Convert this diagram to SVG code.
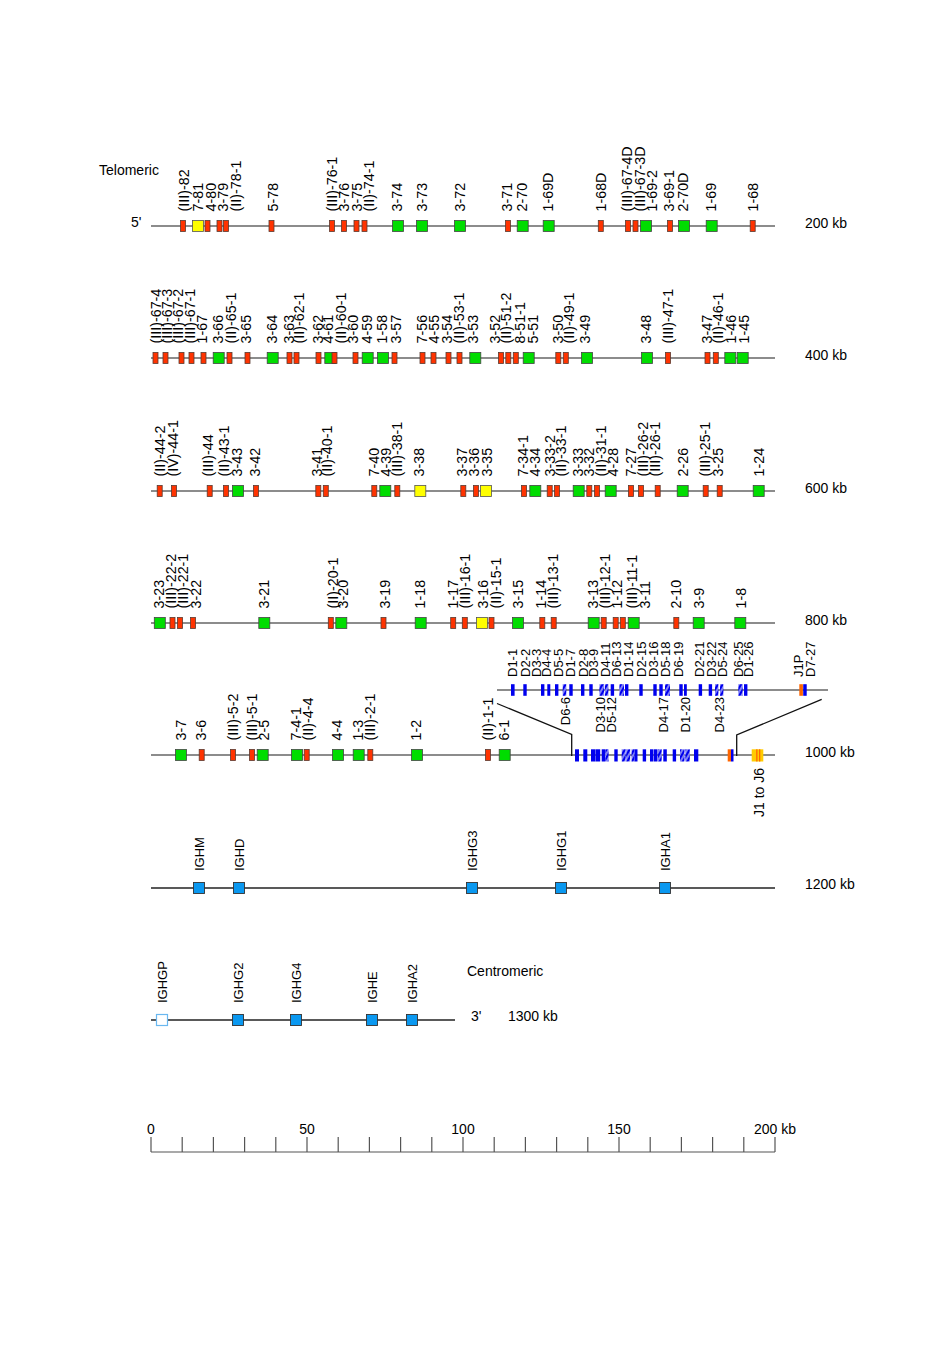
<svg xmlns="http://www.w3.org/2000/svg" xmlns:xlink="http://www.w3.org/1999/xlink" width="926" height="1361" viewBox="0 0 926 1361">
<style>
text{font-family:"Liberation Sans",Arial,sans-serif;font-size:13px;fill:#000}
g[id^="v"] text{font-size:14.3px}
.s{font-size:14px}
.e{text-anchor:end}
.m{text-anchor:middle}
.ln{stroke:#666;stroke-width:1.3;fill:none}
.lk{stroke:#222;stroke-width:1.3;fill:none}
.cn{stroke:#111;stroke-width:1.3;fill:none}
.d{fill:#0000ee}
.dh{fill:url(#hatch)}
.o{fill:#ff6600}
</style>
<defs>
<pattern id="hatch" width="4" height="4" patternUnits="userSpaceOnUse" patternTransform="rotate(30)"><rect width="4" height="4" fill="#0000ee"/><rect x="1.5" width="1" height="4" fill="#ffffff"/></pattern>
<rect id="R" x="-2.5" y="-5.5" width="5" height="11" fill="#ff3300" stroke="#5a3a30" stroke-width="0.8"/>
<rect id="G" x="-5.5" y="-5.5" width="11" height="11" fill="#00dd00" stroke="#444" stroke-width="0.8"/>
<rect id="Y" x="-5.5" y="-5.5" width="11" height="11" fill="#ffff00" stroke="#555" stroke-width="0.8"/>
<rect id="C" x="-5.5" y="-5.5" width="11" height="11" fill="#0a98f0" stroke="#333" stroke-width="0.9"/>
<rect id="CP" x="-5.5" y="-5.5" width="11" height="11" fill="#ffffff" stroke="#6ab8f0" stroke-width="1.2"/>
</defs>
<rect width="926" height="1361" fill="#fff"/>

<g id="connectors">
<line class="ln" x1="151" y1="226" x2="775" y2="226"/>
<line class="ln" x1="151" y1="358" x2="775" y2="358"/>
<line class="ln" x1="151" y1="491" x2="775" y2="491"/>
<line class="ln" x1="151" y1="623" x2="775" y2="623"/>
<line class="ln" x1="151" y1="755" x2="775" y2="755"/>
<line class="ln" x1="497" y1="690" x2="828" y2="690"/>
<line class="lk" x1="151" y1="888" x2="775" y2="888"/>
<line class="lk" x1="151" y1="1020" x2="455" y2="1020"/>
<polyline class="cn" points="497,703.5 571.7,734.5 571.7,756"/>
<polyline class="cn" points="821.7,699.3 736.7,735 736.7,756"/>
</g>

<g id="side-labels">
<text class="s" x="99" y="175">Telomeric</text>
<text class="s" x="131" y="227">5'</text>
<text class="s" x="805" y="228">200 kb</text>
<text class="s" x="805" y="360">400 kb</text>
<text class="s" x="805" y="493">600 kb</text>
<text class="s" x="805" y="625">800 kb</text>
<text class="s" x="805" y="757">1000 kb</text>
<text class="s" x="805" y="889">1200 kb</text>
<text class="s" x="467" y="976">Centromeric</text>
<text class="s" x="471" y="1021">3'</text>
<text class="s" x="508" y="1021">1300 kb</text>
</g>

<!-- Row 1 -->
<g id="v-III-82"><use href="#R" x="183" y="226"/><text transform="translate(188.7,211.5) rotate(-90)">(III)-82</text></g>
<g id="v7-81"><use href="#Y" x="198" y="226"/><text transform="translate(202.7,211.5) rotate(-90)">7-81</text></g>
<g id="v4-80"><use href="#R" x="207.5" y="226"/><text transform="translate(215.7,211.5) rotate(-90)">4-80</text></g>
<g id="v3-79"><use href="#R" x="219.5" y="226"/><text transform="translate(227.7,211.5) rotate(-90)">3-79</text></g>
<g id="v-II-78-1"><use href="#R" x="226" y="226"/><text transform="translate(240.7,211.5) rotate(-90)">(II)-78-1</text></g>
<g id="v5-78"><use href="#R" x="271.5" y="226"/><text transform="translate(277.7,211.5) rotate(-90)">5-78</text></g>
<g id="v-III-76-1"><use href="#R" x="332" y="226"/><text transform="translate(336.7,211.5) rotate(-90)">(III)-76-1</text></g>
<g id="v3-76"><use href="#R" x="344" y="226"/><text transform="translate(348.7,211.5) rotate(-90)">3-76</text></g>
<g id="v3-75"><use href="#R" x="356.5" y="226"/><text transform="translate(361.7,211.5) rotate(-90)">3-75</text></g>
<g id="v-II-74-1"><use href="#R" x="364.5" y="226"/><text transform="translate(373.7,211.5) rotate(-90)">(II)-74-1</text></g>
<g id="v3-74"><use href="#G" x="398" y="226"/><text transform="translate(401.7,211.5) rotate(-90)">3-74</text></g>
<g id="v3-73"><use href="#G" x="422" y="226"/><text transform="translate(426.7,211.5) rotate(-90)">3-73</text></g>
<g id="v3-72"><use href="#G" x="460" y="226"/><text transform="translate(464.7,211.5) rotate(-90)">3-72</text></g>
<g id="v3-71"><use href="#R" x="508" y="226"/><text transform="translate(511.7,211.5) rotate(-90)">3-71</text></g>
<g id="v2-70"><use href="#G" x="522.7" y="226"/><text transform="translate(526.7,211.5) rotate(-90)">2-70</text></g>
<g id="v1-69D"><use href="#G" x="548.7" y="226"/><text transform="translate(552.7,211.5) rotate(-90)">1-69D</text></g>
<g id="v1-68D"><use href="#R" x="600.8" y="226"/><text transform="translate(605.7,211.5) rotate(-90)">1-68D</text></g>
<g id="v-III-67-4D"><use href="#R" x="628" y="226"/><text transform="translate(631.5,211.5) rotate(-90)">(III)-67-4D</text></g>
<g id="v-III-67-3D"><use href="#R" x="635.5" y="226"/><text transform="translate(644.7,211.5) rotate(-90)">(III)-67-3D</text></g>
<g id="v1-69-2"><use href="#G" x="646" y="226"/><text transform="translate(657,211.5) rotate(-90)">1-69-2</text></g>
<g id="v3-69-1"><use href="#R" x="670" y="226"/><text transform="translate(673.5,211.5) rotate(-90)">3-69-1</text></g>
<g id="v2-70D"><use href="#G" x="684" y="226"/><text transform="translate(687.5,211.5) rotate(-90)">2-70D</text></g>
<g id="v1-69"><use href="#G" x="711.7" y="226"/><text transform="translate(715.7,211.5) rotate(-90)">1-69</text></g>
<g id="v1-68"><use href="#R" x="752.7" y="226"/><text transform="translate(757.7,211.5) rotate(-90)">1-68</text></g>

<!-- Row 2 -->
<g id="v-III-67-4"><use href="#R" x="155.5" y="358"/><text transform="translate(160.7,343.5) rotate(-90)">(III)-67-4</text></g>
<g id="v-III-67-3"><use href="#R" x="165.5" y="358"/><text transform="translate(171.7,343.5) rotate(-90)">(III)-67-3</text></g>
<g id="v-III-67-2"><use href="#R" x="181.5" y="358"/><text transform="translate(183.2,343.5) rotate(-90)">(III)-67-2</text></g>
<g id="v-III-67-1"><use href="#R" x="191.5" y="358"/><text transform="translate(194.7,343.5) rotate(-90)">(III)-67-1</text></g>
<g id="v1-67"><use href="#R" x="203.5" y="358"/><text transform="translate(207.2,343.5) rotate(-90)">1-67</text></g>
<g id="v3-66"><use href="#G" x="218.7" y="358"/><text transform="translate(222.7,343.5) rotate(-90)">3-66</text></g>
<g id="v-II-65-1"><use href="#R" x="229.5" y="358"/><text transform="translate(235.7,343.5) rotate(-90)">(II)-65-1</text></g>
<g id="v3-65"><use href="#R" x="247.5" y="358"/><text transform="translate(250.7,343.5) rotate(-90)">3-65</text></g>
<g id="v3-64"><use href="#G" x="272.7" y="358"/><text transform="translate(276.7,343.5) rotate(-90)">3-64</text></g>
<g id="v3-63"><use href="#R" x="289.5" y="358"/><text transform="translate(293.7,343.5) rotate(-90)">3-63</text></g>
<g id="v-II-62-1"><use href="#R" x="296.5" y="358"/><text transform="translate(304.2,343.5) rotate(-90)">(II)-62-1</text></g>
<g id="v3-62"><use href="#R" x="318.5" y="358"/><text transform="translate(322.7,343.5) rotate(-90)">3-62</text></g>
<g id="v4-61"><use href="#G" x="330.3" y="358"/><text transform="translate(333.2,343.5) rotate(-90)">4-61</text></g>
<g id="v-II-60-1"><use href="#R" x="334.5" y="358"/><text transform="translate(346.2,343.5) rotate(-90)">(II)-60-1</text></g>
<g id="v3-60"><use href="#R" x="355.5" y="358"/><text transform="translate(357.7,343.5) rotate(-90)">3-60</text></g>
<g id="v4-59"><use href="#G" x="367.7" y="358"/><text transform="translate(371.7,343.5) rotate(-90)">4-59</text></g>
<g id="v1-58"><use href="#G" x="383" y="358"/><text transform="translate(386.7,343.5) rotate(-90)">1-58</text></g>
<g id="v3-57"><use href="#R" x="394.5" y="358"/><text transform="translate(400.7,343.5) rotate(-90)">3-57</text></g>
<g id="v7-56"><use href="#R" x="422.5" y="358"/><text transform="translate(426.7,343.5) rotate(-90)">7-56</text></g>
<g id="v4-55"><use href="#R" x="433.5" y="358"/><text transform="translate(438.7,343.5) rotate(-90)">4-55</text></g>
<g id="v3-54"><use href="#R" x="448.5" y="358"/><text transform="translate(451.7,343.5) rotate(-90)">3-54</text></g>
<g id="v-II-53-1"><use href="#R" x="459.5" y="358"/><text transform="translate(464.2,343.5) rotate(-90)">(II)-53-1</text></g>
<g id="v3-53"><use href="#G" x="475.3" y="358"/><text transform="translate(478.2,343.5) rotate(-90)">3-53</text></g>
<g id="v3-52"><use href="#R" x="501" y="358"/><text transform="translate(499.7,343.5) rotate(-90)">3-52</text></g>
<g id="v-II-51-2"><use href="#R" x="508.3" y="358"/><text transform="translate(510.7,343.5) rotate(-90)">(II)-51-2</text></g>
<g id="v8-51-1"><use href="#R" x="515.8" y="358"/><text transform="translate(525.2,343.5) rotate(-90)">8-51-1</text></g>
<g id="v5-51"><use href="#G" x="528.7" y="358"/><text transform="translate(537.7,343.5) rotate(-90)">5-51</text></g>
<g id="v3-50"><use href="#R" x="558.3" y="358"/><text transform="translate(562.7,343.5) rotate(-90)">3-50</text></g>
<g id="v-II-49-1"><use href="#R" x="565.8" y="358"/><text transform="translate(573.7,343.5) rotate(-90)">(II)-49-1</text></g>
<g id="v3-49"><use href="#G" x="587" y="358"/><text transform="translate(589.7,343.5) rotate(-90)">3-49</text></g>
<g id="v3-48"><use href="#G" x="647" y="358"/><text transform="translate(650.7,343.5) rotate(-90)">3-48</text></g>
<g id="v-III-47-1"><use href="#R" x="668" y="358"/><text transform="translate(672.7,343.5) rotate(-90)">(III)-47-1</text></g>
<g id="v3-47"><use href="#R" x="707.5" y="358"/><text transform="translate(711.7,343.5) rotate(-90)">3-47</text></g>
<g id="v-II-46-1"><use href="#R" x="715.8" y="358"/><text transform="translate(722.7,343.5) rotate(-90)">(II)-46-1</text></g>
<g id="v1-46"><use href="#G" x="730.3" y="358"/><text transform="translate(736.2,343.5) rotate(-90)">1-46</text></g>
<g id="v1-45"><use href="#G" x="742.7" y="358"/><text transform="translate(748.7,343.5) rotate(-90)">1-45</text></g>

<!-- Row 3 -->
<g id="v-II-44-2"><use href="#R" x="159.7" y="491"/><text transform="translate(164.7,476.5) rotate(-90)">(II)-44-2</text></g>
<g id="v-IV-44-1"><use href="#R" x="174" y="491"/><text transform="translate(178.2,476.5) rotate(-90)">(IV)-44-1</text></g>
<g id="v-III-44"><use href="#R" x="209.7" y="491"/><text transform="translate(213.2,476.5) rotate(-90)">(III)-44</text></g>
<g id="v-II-43-1"><use href="#R" x="226" y="491"/><text transform="translate(228.7,476.5) rotate(-90)">(II)-43-1</text></g>
<g id="v3-43"><use href="#G" x="238" y="491"/><text transform="translate(241.7,476.5) rotate(-90)">3-43</text></g>
<g id="v3-42"><use href="#R" x="256" y="491"/><text transform="translate(259.7,476.5) rotate(-90)">3-42</text></g>
<g id="v3-41"><use href="#R" x="318.3" y="491"/><text transform="translate(322.2,476.5) rotate(-90)">3-41</text></g>
<g id="v-II-40-1"><use href="#R" x="325.8" y="491"/><text transform="translate(331.7,476.5) rotate(-90)">(II)-40-1</text></g>
<g id="v7-40"><use href="#R" x="374.3" y="491"/><text transform="translate(378.7,476.5) rotate(-90)">7-40</text></g>
<g id="v4-39"><use href="#G" x="385.3" y="491"/><text transform="translate(390.7,476.5) rotate(-90)">4-39</text></g>
<g id="v-III-38-1"><use href="#R" x="397.3" y="491"/><text transform="translate(401.7,476.5) rotate(-90)">(III)-38-1</text></g>
<g id="v3-38"><use href="#Y" x="420.3" y="491"/><text transform="translate(424.2,476.5) rotate(-90)">3-38</text></g>
<g id="v3-37"><use href="#R" x="463.3" y="491"/><text transform="translate(466.7,476.5) rotate(-90)">3-37</text></g>
<g id="v3-36"><use href="#R" x="476" y="491"/><text transform="translate(479.2,476.5) rotate(-90)">3-36</text></g>
<g id="v3-35"><use href="#Y" x="486" y="491"/><text transform="translate(491.7,476.5) rotate(-90)">3-35</text></g>
<g id="v7-34-1"><use href="#R" x="524" y="491"/><text transform="translate(528.2,476.5) rotate(-90)">7-34-1</text></g>
<g id="v4-34"><use href="#G" x="535.3" y="491"/><text transform="translate(539.7,476.5) rotate(-90)">4-34</text></g>
<g id="v3-33-2"><use href="#R" x="549.7" y="491"/><text transform="translate(554.7,476.5) rotate(-90)">3-33-2</text></g>
<g id="v-II-33-1"><use href="#R" x="557" y="491"/><text transform="translate(565.7,476.5) rotate(-90)">(II)-33-1</text></g>
<g id="v3-33"><use href="#G" x="578.7" y="491"/><text transform="translate(583.2,476.5) rotate(-90)">3-33</text></g>
<g id="v3-32"><use href="#R" x="589.3" y="491"/><text transform="translate(593.7,476.5) rotate(-90)">3-32</text></g>
<g id="v-II-31-1"><use href="#R" x="597" y="491"/><text transform="translate(605.7,476.5) rotate(-90)">(II)-31-1</text></g>
<g id="v4-28"><use href="#G" x="610.7" y="491"/><text transform="translate(617.7,476.5) rotate(-90)">4-28</text></g>
<g id="v7-27"><use href="#R" x="631" y="491"/><text transform="translate(636.2,476.5) rotate(-90)">7-27</text></g>
<g id="v-III-26-2"><use href="#R" x="641" y="491"/><text transform="translate(648.2,476.5) rotate(-90)">(III)-26-2</text></g>
<g id="v-III-26-1"><use href="#R" x="657.7" y="491"/><text transform="translate(660.2,476.5) rotate(-90)">(III)-26-1</text></g>
<g id="v2-26"><use href="#G" x="682.7" y="491"/><text transform="translate(687.7,476.5) rotate(-90)">2-26</text></g>
<g id="v-III-25-1"><use href="#R" x="705.7" y="491"/><text transform="translate(709.7,476.5) rotate(-90)">(III)-25-1</text></g>
<g id="v3-25"><use href="#R" x="719.7" y="491"/><text transform="translate(723.2,476.5) rotate(-90)">3-25</text></g>
<g id="v1-24"><use href="#G" x="758.7" y="491"/><text transform="translate(763.7,476.5) rotate(-90)">1-24</text></g>

<!-- Row 4 -->
<g id="v3-23"><use href="#G" x="159.8" y="623"/><text transform="translate(163.7,608.5) rotate(-90)">3-23</text></g>
<g id="v-III-22-2"><use href="#R" x="172.5" y="623"/><text transform="translate(176.2,608.5) rotate(-90)">(III)-22-2</text></g>
<g id="v-III-22-1"><use href="#R" x="180" y="623"/><text transform="translate(187.7,608.5) rotate(-90)">(III)-22-1</text></g>
<g id="v3-22"><use href="#R" x="193" y="623"/><text transform="translate(200.7,608.5) rotate(-90)">3-22</text></g>
<g id="v3-21"><use href="#G" x="264.3" y="623"/><text transform="translate(268.7,608.5) rotate(-90)">3-21</text></g>
<g id="v-II-20-1"><use href="#R" x="330.8" y="623"/><text transform="translate(337.7,608.5) rotate(-90)">(II)-20-1</text></g>
<g id="v3-20"><use href="#G" x="341.3" y="623"/><text transform="translate(348.2,608.5) rotate(-90)">3-20</text></g>
<g id="v3-19"><use href="#R" x="383.5" y="623"/><text transform="translate(389.7,608.5) rotate(-90)">3-19</text></g>
<g id="v1-18"><use href="#G" x="420.7" y="623"/><text transform="translate(424.7,608.5) rotate(-90)">1-18</text></g>
<g id="v1-17"><use href="#R" x="453.2" y="623"/><text transform="translate(458.2,608.5) rotate(-90)">1-17</text></g>
<g id="v-III-16-1"><use href="#R" x="464.8" y="623"/><text transform="translate(469.7,608.5) rotate(-90)">(III)-16-1</text></g>
<g id="v3-16"><use href="#Y" x="482" y="623"/><text transform="translate(487.7,608.5) rotate(-90)">3-16</text></g>
<g id="v-II-15-1"><use href="#R" x="491.5" y="623"/><text transform="translate(500.7,608.5) rotate(-90)">(II)-15-1</text></g>
<g id="v3-15"><use href="#G" x="518" y="623"/><text transform="translate(523.2,608.5) rotate(-90)">3-15</text></g>
<g id="v1-14"><use href="#R" x="542.3" y="623"/><text transform="translate(546.2,608.5) rotate(-90)">1-14</text></g>
<g id="v-III-13-1"><use href="#R" x="553.7" y="623"/><text transform="translate(558.2,608.5) rotate(-90)">(III)-13-1</text></g>
<g id="v3-13"><use href="#G" x="593.7" y="623"/><text transform="translate(598.2,608.5) rotate(-90)">3-13</text></g>
<g id="v-III-12-1"><use href="#R" x="603.7" y="623"/><text transform="translate(609.7,608.5) rotate(-90)">(III)-12-1</text></g>
<g id="v1-12"><use href="#R" x="615.7" y="623"/><text transform="translate(621.7,608.5) rotate(-90)">1-12</text></g>
<g id="v-III-11-1"><use href="#R" x="622.8" y="623"/><text transform="translate(637.2,608.5) rotate(-90)">(III)-11-1</text></g>
<g id="v3-11"><use href="#G" x="633.7" y="623"/><text transform="translate(649.7,608.5) rotate(-90)">3-11</text></g>
<g id="v2-10"><use href="#R" x="676.3" y="623"/><text transform="translate(681.2,608.5) rotate(-90)">2-10</text></g>
<g id="v3-9"><use href="#G" x="698.7" y="623"/><text transform="translate(703.7,608.5) rotate(-90)">3-9</text></g>
<g id="v1-8"><use href="#G" x="740.3" y="623"/><text transform="translate(746.2,608.5) rotate(-90)">1-8</text></g>

<!-- Row 5 -->
<g id="v3-7"><use href="#G" x="181" y="755"/><text transform="translate(186.4,740.5) rotate(-90)">3-7</text></g>
<g id="v3-6"><use href="#R" x="201.7" y="755"/><text transform="translate(206.4,740.5) rotate(-90)">3-6</text></g>
<g id="v-III-5-2"><use href="#R" x="233" y="755"/><text transform="translate(238,740.5) rotate(-90)">(III)-5-2</text></g>
<g id="v-III-5-1"><use href="#R" x="252" y="755"/><text transform="translate(257.4,740.5) rotate(-90)">(III)-5-1</text></g>
<g id="v2-5"><use href="#G" x="262.7" y="755"/><text transform="translate(268.7,740.5) rotate(-90)">2-5</text></g>
<g id="v7-4-1"><use href="#G" x="297" y="755"/><text transform="translate(301.4,740.5) rotate(-90)">7-4-1</text></g>
<g id="v-II-4-4"><use href="#R" x="306.7" y="755"/><text transform="translate(313,740.5) rotate(-90)">(II)-4-4</text></g>
<g id="v4-4"><use href="#G" x="338" y="755"/><text transform="translate(342.4,740.5) rotate(-90)">4-4</text></g>
<g id="v1-3"><use href="#G" x="358.7" y="755"/><text transform="translate(363,740.5) rotate(-90)">1-3</text></g>
<g id="v-III-2-1"><use href="#R" x="370.3" y="755"/><text transform="translate(374.7,740.5) rotate(-90)">(III)-2-1</text></g>
<g id="v1-2"><use href="#G" x="417" y="755"/><text transform="translate(421.4,740.5) rotate(-90)">1-2</text></g>
<g id="v-II-1-1"><use href="#R" x="488" y="755"/><text transform="translate(493,740.5) rotate(-90)">(II)-1-1</text></g>
<g id="v6-1"><use href="#G" x="504.7" y="755"/><text transform="translate(508.7,740.5) rotate(-90)">6-1</text></g>

<!-- D genes (expanded) -->
<g id="d1-1"><rect class="d" x="511" y="684.2" width="3.6" height="11.6"/><text transform="translate(517.4,677) rotate(-90)">D1-1</text></g>
<g id="d2-2"><rect class="d" x="523.3" y="684.2" width="3.4" height="11.6"/><text transform="translate(529.7,677) rotate(-90)">D2-2</text></g>
<g id="d3-3"><rect class="d" x="541" y="684.2" width="3.4" height="11.6"/><text transform="translate(541.4,677) rotate(-90)">D3-3</text></g>
<g id="d4-4"><rect class="d" x="547.3" y="684.2" width="3" height="11.6"/><text transform="translate(551.4,677) rotate(-90)">D4-4</text></g>
<g id="d5-5"><rect class="d" x="555" y="684.2" width="3.4" height="11.6"/><text transform="translate(563,677) rotate(-90)">D5-5</text></g>
<g id="d6-6"><rect class="dh" x="562.7" y="684.2" width="3.6" height="11.6"/><text class="e" transform="translate(570,697) rotate(-90)">D6-6</text></g>
<g id="d1-7"><rect class="d" x="569.3" y="684.2" width="3.4" height="11.6"/><text transform="translate(574.7,677) rotate(-90)">D1-7</text></g>
<g id="d2-8"><rect class="d" x="581" y="684.2" width="3.4" height="11.6"/><text transform="translate(588,677) rotate(-90)">D2-8</text></g>
<g id="d3-9"><rect class="d" x="589.3" y="684.2" width="3.4" height="11.6"/><text transform="translate(598,677) rotate(-90)">D3-9</text></g>
<g id="d3-10"><rect class="dh" x="599.4" y="684.2" width="4.6" height="11.6"/><text class="e" transform="translate(604.7,697) rotate(-90)">D3-10</text></g>
<g id="d4-11"><rect class="dh" x="604.8" y="684.2" width="3.6" height="11.6"/><text transform="translate(609.7,677) rotate(-90)">D4-11</text></g>
<g id="d5-12"><rect class="d" x="610.7" y="684.2" width="3.4" height="11.6"/><text class="e" transform="translate(616,697) rotate(-90)">D5-12</text></g>
<g id="d6-13"><rect class="dh" x="619.4" y="684.2" width="4.6" height="11.6"/><text transform="translate(621.4,677) rotate(-90)">D6-13</text></g>
<g id="d1-14"><rect class="d" x="625" y="684.2" width="3.4" height="11.6"/><text transform="translate(633,677) rotate(-90)">D1-14</text></g>
<g id="d2-15"><rect class="d" x="639.3" y="684.2" width="3.4" height="11.6"/><text transform="translate(646.4,677) rotate(-90)">D2-15</text></g>
<g id="d3-16"><rect class="d" x="653.3" y="684.2" width="3.4" height="11.6"/><text transform="translate(658,677) rotate(-90)">D3-16</text></g>
<g id="d4-17"><rect class="d" x="659.3" y="684.2" width="3.4" height="11.6"/><text class="e" transform="translate(668,697) rotate(-90)">D4-17</text></g>
<g id="d5-18"><rect class="dh" x="665" y="684.2" width="5" height="11.6"/><text transform="translate(669.7,677) rotate(-90)">D5-18</text></g>
<g id="d6-19"><rect class="d" x="679.3" y="684.2" width="3.4" height="11.6"/><text transform="translate(683,677) rotate(-90)">D6-19</text></g>
<g id="d1-20"><rect class="d" x="684" y="684.2" width="2.8" height="11.6"/><text class="e" transform="translate(689.7,697) rotate(-90)">D1-20</text></g>
<g id="d2-21"><rect class="d" x="698.7" y="684.2" width="3.4" height="11.6"/><text transform="translate(704,677) rotate(-90)">D2-21</text></g>
<g id="d3-22"><rect class="d" x="708.7" y="684.2" width="3.4" height="11.6"/><text transform="translate(716.4,677) rotate(-90)">D3-22</text></g>
<g id="d4-23"><rect class="dh" x="715" y="684.2" width="3.4" height="11.6"/><text class="e" transform="translate(724.4,697) rotate(-90)">D4-23</text></g>
<g id="d5-24"><rect class="dh" x="720" y="684.2" width="3.4" height="11.6"/><text transform="translate(727.4,677) rotate(-90)">D5-24</text></g>
<g id="d6-25"><rect class="dh" x="738.3" y="684.2" width="4.4" height="11.6"/><text transform="translate(743,677) rotate(-90)">D6-25</text></g>
<g id="d1-26"><rect class="d" x="744" y="684.2" width="3.4" height="11.6"/><text transform="translate(753,677) rotate(-90)">D1-26</text></g>
<g id="j1p"><rect class="o" x="799.3" y="684.2" width="3.6" height="11.6"/><text transform="translate(803,677) rotate(-90)">J1P</text></g>
<g id="d7-27"><rect class="d" x="803.2" y="684.2" width="3.5" height="11.6"/><text transform="translate(814.7,677) rotate(-90)">D7-27</text></g>

<!-- D cluster (compressed, on main line) -->
<g id="d-cluster">
<rect class="d" x="575" y="749.3" width="4" height="12.2"/>
<rect class="d" x="583.3" y="749.3" width="4" height="12.2"/>
<rect class="d" x="591" y="749.3" width="4.5" height="12.2"/>
<rect class="d" x="595.7" y="749.3" width="4.5" height="12.2"/>
<rect class="d" x="601.7" y="749.3" width="3.5" height="12.2"/>
<rect class="dh" x="605.3" y="749.3" width="3.3" height="12.2"/>
<rect class="d" x="614.3" y="749.3" width="3.4" height="12.2"/>
<rect class="dh" x="621.7" y="749.3" width="4" height="12.2"/>
<rect class="dh" x="626.2" y="749.3" width="4" height="12.2"/>
<rect class="dh" x="631.5" y="749.3" width="3" height="12.2"/>
<rect class="d" x="634.5" y="749.3" width="3" height="12.2"/>
<rect class="d" x="642.7" y="749.3" width="3.4" height="12.2"/>
<rect class="d" x="650" y="749.3" width="3.5" height="12.2"/>
<rect class="d" x="654" y="749.3" width="3.5" height="12.2"/>
<rect class="dh" x="658" y="749.3" width="3.7" height="12.2"/>
<rect class="d" x="663.3" y="749.3" width="3.5" height="12.2"/>
<rect class="d" x="672.7" y="749.3" width="3.4" height="12.2"/>
<rect class="dh" x="680" y="749.3" width="4.5" height="12.2"/>
<rect class="dh" x="685.3" y="749.3" width="4.5" height="12.2"/>
<rect class="d" x="694" y="749.3" width="4.3" height="12.2"/>
<rect class="o" x="727.7" y="749.3" width="3.3" height="12.2"/>
<rect class="d" x="731" y="749.3" width="2.5" height="12.2"/>
</g>
<g id="j1-j6"><rect x="751.7" y="749.3" width="11.6" height="12.2" fill="#ffcc00"/><rect class="o" x="756.2" y="749.3" width="1.3" height="12.2"/><rect class="o" x="759" y="749.3" width="1.3" height="12.2"/><text class="e" style="font-size:14px" transform="translate(764,768) rotate(-90)">J1 to J6</text></g>

<!-- Constant genes -->
<g id="ighm"><use href="#C" x="199" y="888"/><text transform="translate(203.7,871) rotate(-90)">IGHM</text></g>
<g id="ighd"><use href="#C" x="239" y="888"/><text transform="translate(243.7,871) rotate(-90)">IGHD</text></g>
<g id="ighg3"><use href="#C" x="472" y="888"/><text transform="translate(476.7,871) rotate(-90)">IGHG3</text></g>
<g id="ighg1"><use href="#C" x="561" y="888"/><text transform="translate(565.7,871) rotate(-90)">IGHG1</text></g>
<g id="igha1"><use href="#C" x="665" y="888"/><text transform="translate(669.7,871) rotate(-90)">IGHA1</text></g>
<g id="ighgp"><use href="#CP" x="162" y="1020"/><text transform="translate(166.7,1003) rotate(-90)">IGHGP</text></g>
<g id="ighg2"><use href="#C" x="238" y="1020"/><text transform="translate(242.7,1003) rotate(-90)">IGHG2</text></g>
<g id="ighg4"><use href="#C" x="296" y="1020"/><text transform="translate(300.7,1003) rotate(-90)">IGHG4</text></g>
<g id="ighe"><use href="#C" x="372" y="1020"/><text transform="translate(376.7,1003) rotate(-90)">IGHE</text></g>
<g id="igha2"><use href="#C" x="412" y="1020"/><text transform="translate(416.7,1003) rotate(-90)">IGHA2</text></g>

<!-- Scale bar -->
<g id="scale" stroke="#555" stroke-width="1.2" fill="none">
<path d="M151,1152H775 M151,1137V1152 M182.2,1137V1152 M213.4,1137V1152 M244.6,1137V1152 M275.8,1137V1152 M307,1137V1152 M338.2,1137V1152 M369.4,1137V1152 M400.6,1137V1152 M431.8,1137V1152 M463,1137V1152 M494.2,1137V1152 M525.4,1137V1152 M556.6,1137V1152 M587.8,1137V1152 M619,1137V1152 M650.2,1137V1152 M681.4,1137V1152 M712.6,1137V1152 M743.8,1137V1152 M775,1137V1152"/>
</g>
<g id="scale-labels">
<text class="s m" x="151" y="1134">0</text>
<text class="s m" x="307" y="1134">50</text>
<text class="s m" x="463" y="1134">100</text>
<text class="s m" x="619" y="1134">150</text>
<text class="s m" x="775" y="1134">200 kb</text>
</g>
</svg>
